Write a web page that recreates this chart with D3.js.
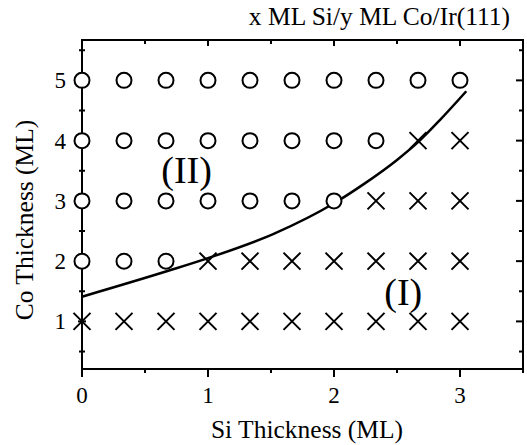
<!DOCTYPE html>
<html>
<head>
<meta charset="utf-8">
<style>
  body { margin: 0; background: #fff; }
  text { font-family: "Liberation Serif", "Times New Roman", serif; fill: #000; }
</style>
<script src="https://cdn.jsdelivr.net/npm/d3@7"></script>
</head>
<body>
<div id="chart"></div>
<script>
// Si thickness grid (ML) and Co thickness rows (ML)
var siValues = [0, 1/3, 2/3, 1, 4/3, 5/3, 2, 7/3, 8/3, 3];
var coRows = [1, 2, 3, 4, 5];
// number of circles per row (the rest are crosses)
var circleCount = {1: 0, 2: 3, 3: 7, 4: 8, 5: 10};

// boundary curve
var curveSi = [0, 0.685, 1.0, 1.53, 2.0, 2.23, 2.5, 2.68, 2.84, 3.05];
var curveCo = [1.41, 1.84, 2.05, 2.46, 2.96, 3.27, 3.68, 4.0, 4.34, 4.82];

var xTicks = [0, 1, 2, 3];
var yTicks = [1, 2, 3, 4, 5];

var W = 527, H = 445;
var margin = {top: 40, right: 4, bottom: 76, left: 82};
var width = W - margin.left - margin.right,
    height = H - margin.top - margin.bottom;

var x = d3.scaleLinear().domain([0, 3.5]).range([0, width]);
var y = d3.scaleLinear().domain([0.21, 5.67]).range([height, 0]);

var svgRoot = d3.select('#chart').append('svg')
    .attr('width', W).attr('height', H);
var svg = svgRoot.append('g')
    .attr('transform', `translate(${margin.left},${margin.top})`);

// frame
svg.append('rect')
    .attr('width', width).attr('height', height)
    .attr('fill', 'none').attr('stroke', '#000').attr('stroke-width', 2);

var xMinor = d3.range(0, 3.51, 0.5);
var yMinor = d3.range(0.5, 5.6, 0.5);

// bottom ticks (outward)
svg.selectAll('.bt').data(xMinor).enter().append('line')
    .attr('x1', d => x(d)).attr('x2', d => x(d))
    .attr('y1', height).attr('y2', d => height + (d % 1 === 0 ? 8 : 4))
    .attr('stroke', '#000').attr('stroke-width', 2);
// top ticks (inward)
svg.selectAll('.tt').data(xMinor.filter(d => d > 0 && d < 3.5)).enter().append('line')
    .attr('x1', d => x(d)).attr('x2', d => x(d))
    .attr('y1', 0).attr('y2', d => (d % 1 === 0 ? 6 : 4))
    .attr('stroke', '#000').attr('stroke-width', 2);
// left ticks (crossing)
svg.selectAll('.lt').data(yMinor).enter().append('line')
    .attr('x1', d => -(d % 1 === 0 ? 4 : 3)).attr('x2', d => (d % 1 === 0 ? 4 : 3))
    .attr('y1', d => y(d)).attr('y2', d => y(d))
    .attr('stroke', '#000').attr('stroke-width', 2);
// right ticks (inward)
svg.selectAll('.rt').data(yMinor).enter().append('line')
    .attr('x1', width).attr('x2', d => width - (d % 1 === 0 ? 7 : 4))
    .attr('y1', d => y(d)).attr('y2', d => y(d))
    .attr('stroke', '#000').attr('stroke-width', 2);

// tick labels
svg.selectAll('.xl').data(xTicks).enter().append('text')
    .attr('x', d => x(d)).attr('y', height + 34)
    .attr('text-anchor', 'middle').style('font-size', '23px')
    .text(d => d);
svg.selectAll('.yl').data(yTicks).enter().append('text')
    .attr('x', -16).attr('y', d => y(d) + 8)
    .attr('text-anchor', 'end').style('font-size', '23px')
    .text(d => d);

// axis titles
svgRoot.append('text')
    .attr('x', 307).attr('y', 438)
    .attr('text-anchor', 'middle').style('font-size', '25.5px')
    .text('Si Thickness (ML)');
svgRoot.append('text')
    .attr('transform', 'translate(33,220) rotate(-90)')
    .attr('text-anchor', 'middle').style('font-size', '25.5px')
    .text('Co Thickness (ML)');
svgRoot.append('text')
    .attr('x', 510).attr('y', 25)
    .attr('text-anchor', 'end').style('font-size', '25.5px')
    .text('x ML Si/y ML Co/Ir(111)');

// boundary line
var line = d3.line()
    .x((d, i) => x(curveSi[i]))
    .y(d => y(d))
    .curve(d3.curveMonotoneX);
svg.append('path').datum(curveCo)
    .attr('d', line)
    .attr('fill', 'none').attr('stroke', '#000').attr('stroke-width', 2.5);

// markers
var points = [];
coRows.forEach(function(c) {
    siValues.forEach(function(s, i) {
        points.push({si: s, co: c, circle: i < circleCount[c]});
    });
});

svg.selectAll('.circ').data(points.filter(p => p.circle)).enter().append('circle')
    .attr('cx', d => x(d.si)).attr('cy', d => y(d.co)).attr('r', 7.5)
    .attr('fill', '#fff').attr('stroke', '#000').attr('stroke-width', 2);

var crossG = svg.selectAll('.cross').data(points.filter(p => !p.circle)).enter().append('g')
    .attr('transform', d => `translate(${x(d.si)},${y(d.co)})`);
crossG.append('path')
    .attr('d', 'M-8.5,-8.5L8.5,8.5M-8.5,8.5L8.5,-8.5')
    .attr('stroke', '#000').attr('stroke-width', 2);

// region labels
svg.append('text')
    .attr('x', x(0.83)).attr('y', y(3.3))
    .attr('text-anchor', 'middle').style('font-size', '38px')
    .text('(II)');
svg.append('text')
    .attr('x', x(2.55)).attr('y', y(1.27))
    .attr('text-anchor', 'middle').style('font-size', '38px')
    .text('(I)');
</script>
</body>
</html>
